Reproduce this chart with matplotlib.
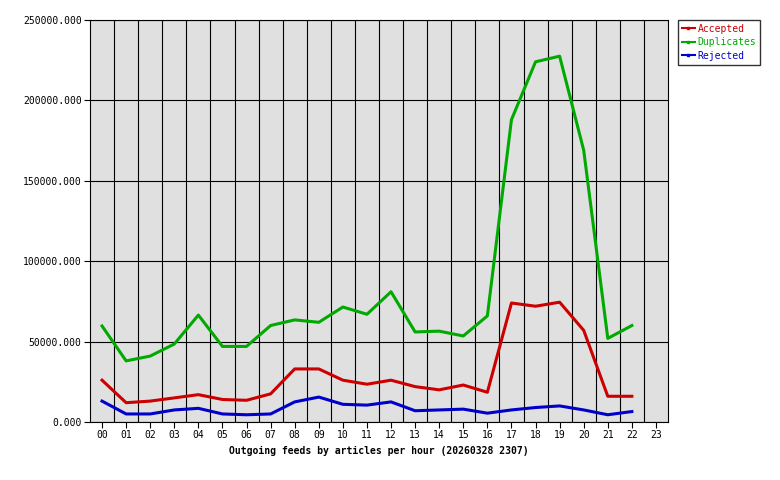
import matplotlib
matplotlib.use("Agg")
import matplotlib.pyplot as plt
from matplotlib.lines import Line2D

hours = ["%02d" % h for h in range(24)]
accepted = [26000,12000,13000,15000,17000,14000,13500,17500,33000,33000,26000,23500,26000,22000,20000,23000,18500,74000,72000,74500,57000,16000,16000]
duplicates = [59700,38000,41000,48500,66500,47000,47000,60000,63500,62000,71500,67000,81000,56000,56500,53500,66000,188000,224000,227500,169000,52000,60000]
rejected = [13000,5000,5000,7500,8500,5000,4500,5000,12500,15500,11000,10500,12500,7000,7500,8000,5500,7500,9000,10000,7500,4500,6500]
yticks = [0,50000,100000,150000,200000,250000]

plt.rcParams['font.family'] = ['DejaVu Sans Mono']
fig = plt.figure(figsize=(7.8,4.8), dpi=100)
ax = fig.add_axes([90/780, 1-422/480, 578/780, 402/480])
ax.set_facecolor('#e0e0e0')
x = list(range(len(accepted)))
ax.plot(x, accepted, color='#cc0000', lw=2.2)
ax.plot(x, duplicates, color='#00aa00', lw=2.2)
ax.plot(x, rejected, color='#0000cc', lw=2.2)
ax.set_xlim(-0.5, 23.5)
ax.set_ylim(0, 250000)
ax.set_xticks(range(24))
ax.set_xticklabels(hours, fontsize=7)
ax.set_xticks([i+0.5 for i in range(23)], minor=True)
ax.set_yticks(yticks)
ax.set_yticklabels([("%d" % v) + ".000" if v else "0.000" for v in yticks], fontsize=7)
ax.grid(True, which='minor', axis='x', color='black', lw=0.8)
ax.grid(True, which='major', axis='y', color='black', lw=0.8)
ax.tick_params(which='minor', length=0)
ax.tick_params(which='major', length=4, pad=2)
ax.set_xlabel("Outgoing feeds by articles per hour (20260328 2307)", fontsize=7, fontweight='bold', labelpad=4)
handles = [Line2D([],[],color=c,lw=1.5,marker='s',markersize=2) for c in ['#cc0000','#00aa00','#0000cc']]
leg = fig.legend(handles, ['Accepted','Duplicates','Rejected'], loc='upper left',
                 bbox_to_anchor=(678/780, 1-20/480), fontsize=7, frameon=True, fancybox=False,
                 edgecolor='black', handlelength=1.3, handletextpad=0.3, borderpad=0.4,
                 labelspacing=0.35, borderaxespad=0)
for t, c in zip(leg.get_texts(), ['#cc0000','#00aa00','#0000cc']):
    t.set_color(c)
fig.savefig("out.png", dpi=100)
